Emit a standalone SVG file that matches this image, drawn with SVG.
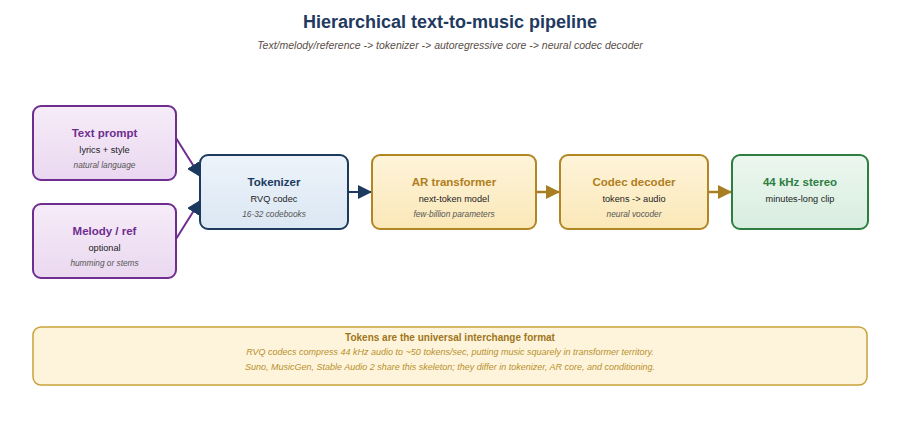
<svg xmlns="http://www.w3.org/2000/svg" width="900" height="442" viewBox="0 0 900 442">
<style>
text{font-family:"Liberation Sans",Arial,sans-serif;text-anchor:middle}
.title{font-size:18px;font-weight:bold;fill:#1f3a60}
.subtitle{font-size:10.5px;font-style:italic;fill:#5a4e48}
.nt{font-size:11.5px;font-weight:bold}
.ns{font-size:9.2px;fill:#222}
.ni{font-size:8.3px;font-style:italic;fill:#555}
.purple rect{fill:url(#gP);stroke:#6e2d8f;stroke-width:2}
.purple .nt{fill:#6e2d8f}
.blue rect{fill:url(#gB);stroke:#1b3a5e;stroke-width:2}
.blue .nt{fill:#1b3a5e}
.gold rect{fill:url(#gY);stroke:#b08722;stroke-width:2}
.gold .nt{fill:#b07e1c}
.green rect{fill:url(#gG);stroke:#2d7e40;stroke-width:2}
.green .nt{fill:#2d7e40}
.cp{stroke:#6e2d8f;stroke-width:2;fill:none}
.cb{stroke:#1b3a5e;stroke-width:2;fill:none}
.cy{stroke:#a87e22;stroke-width:2.5;fill:none}
.nbt{font-size:10px;font-weight:bold;fill:#a0761a}
.nbi{font-size:9px;font-style:italic;fill:#b8902a}
</style>
<defs>
<linearGradient id="gP" x1="0" y1="0" x2="0" y2="1"><stop offset="0" stop-color="#f6ecf8"/><stop offset="1" stop-color="#ead8f0"/></linearGradient>
<linearGradient id="gB" x1="0" y1="0" x2="0" y2="1"><stop offset="0" stop-color="#edf3fa"/><stop offset="1" stop-color="#dbe7f3"/></linearGradient>
<linearGradient id="gY" x1="0" y1="0" x2="0" y2="1"><stop offset="0" stop-color="#fef4da"/><stop offset="1" stop-color="#fbe8b8"/></linearGradient>
<linearGradient id="gG" x1="0" y1="0" x2="0" y2="1"><stop offset="0" stop-color="#ecf7ef"/><stop offset="1" stop-color="#d8eddf"/></linearGradient>
<marker id="aB" viewBox="0 0 14 14" refX="14" refY="7" markerWidth="14" markerHeight="14" markerUnits="userSpaceOnUse" orient="auto"><path d="M0,0 L14,7 L0,14 z" fill="#1b3a5e"/></marker>
<marker id="aY" viewBox="0 0 14 14" refX="14" refY="7" markerWidth="14" markerHeight="14" markerUnits="userSpaceOnUse" orient="auto"><path d="M0,0 L14,7 L0,14 z" fill="#a87e22"/></marker>
</defs>
<rect width="900" height="442" fill="#ffffff"/>
<text class="title" x="450" y="28">Hierarchical text-to-music pipeline</text>
<text class="subtitle" x="450" y="49">Text/melody/reference -&gt; tokenizer -&gt; autoregressive core -&gt; neural codec decoder</text>

<g id="connectors">
<line class="cp" x1="176" y1="138" x2="200.5" y2="177" marker-end="url(#aB)"/>
<line class="cp" x1="176" y1="239" x2="200.5" y2="200" marker-end="url(#aB)"/>
<line class="cb" x1="348" y1="192" x2="372" y2="192" marker-end="url(#aB)"/>
<line class="cy" x1="536" y1="192" x2="560" y2="192" marker-end="url(#aY)"/>
<line class="cy" x1="708" y1="192" x2="732" y2="192" marker-end="url(#aY)"/>
</g>

<g id="text-prompt" class="purple">
<rect x="33" y="106" width="143" height="74" rx="8"/>
<text class="nt" x="104.5" y="137">Text prompt</text>
<text class="ns" x="104.5" y="153">lyrics + style</text>
<text class="ni" x="104.5" y="168">natural language</text>
</g>
<g id="melody-ref" class="purple">
<rect x="33" y="204" width="143" height="74" rx="8"/>
<text class="nt" x="104.5" y="235">Melody / ref</text>
<text class="ns" x="104.5" y="251">optional</text>
<text class="ni" x="104.5" y="266">humming or stems</text>
</g>
<g id="tokenizer" class="blue">
<rect x="200" y="155" width="148" height="74" rx="8"/>
<text class="nt" x="274" y="186">Tokenizer</text>
<text class="ns" x="274" y="202">RVQ codec</text>
<text class="ni" x="274" y="217">16-32 codebooks</text>
</g>
<g id="ar-transformer" class="gold">
<rect x="372" y="155" width="164" height="74" rx="8"/>
<text class="nt" x="454" y="186">AR transformer</text>
<text class="ns" x="454" y="202">next-token model</text>
<text class="ni" x="454" y="217">few-billion parameters</text>
</g>
<g id="codec-decoder" class="gold">
<rect x="560" y="155" width="148" height="74" rx="8"/>
<text class="nt" x="634" y="186">Codec decoder</text>
<text class="ns" x="634" y="202">tokens -&gt; audio</text>
<text class="ni" x="634" y="217">neural vocoder</text>
</g>
<g id="stereo" class="green">
<rect x="732" y="155" width="136" height="74" rx="8"/>
<text class="nt" x="800" y="186">44 kHz stereo</text>
<text class="ns" x="800" y="202">minutes-long clip</text>
</g>

<g id="note">
<rect x="33" y="327" width="834" height="58" rx="8" fill="#fef4dc" stroke="#c9a13a" stroke-width="1.5"/>
<text class="nbt" x="450" y="341">Tokens are the universal interchange format</text>
<text class="nbi" x="450" y="355">RVQ codecs compress 44 kHz audio to ~50 tokens/sec, putting music squarely in transformer territory.</text>
<text class="nbi" x="450" y="370">Suno, MusicGen, Stable Audio 2 share this skeleton; they differ in tokenizer, AR core, and conditioning.</text>
</g>
</svg>
